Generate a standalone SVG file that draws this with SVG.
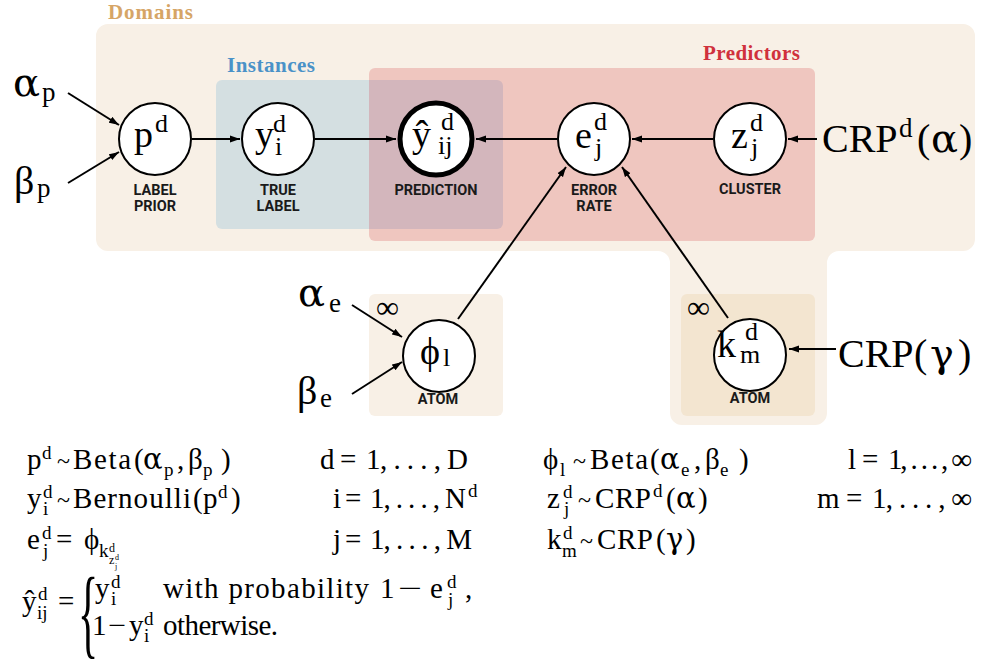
<svg xmlns="http://www.w3.org/2000/svg" width="981" height="665" viewBox="0 0 981 665">
<defs>
<style>
.m{font-family:"Liberation Serif","Times New Roman","DejaVu Serif",serif;fill:#000}
.g{font-family:"DejaVu Serif","Liberation Serif",serif}
.n{font-size:38px}
.ns{font-size:26px}
.e{font-size:29px}
.es{font-size:19px}
.et{font-size:12px}
.ett{font-size:8px}
.t{font-size:24px}
.o{font-size:40px}
.os{font-size:27px}
.lab{font-family:"Liberation Sans Narrow","Roboto","Liberation Sans",sans-serif;font-weight:bold;font-size:14.5px;text-anchor:middle;fill:#1a1a1a}
.grp{font-family:"Liberation Serif","Times New Roman",serif;font-weight:bold;font-size:21px}
.node{fill:#fff;stroke:#000;stroke-width:2}
.conn line{stroke:#000;stroke-width:2;marker-end:url(#ah)}
</style>
<marker id="ah" viewBox="0 0 10 8" refX="10" refY="4" markerWidth="10" markerHeight="8" markerUnits="userSpaceOnUse" orient="auto"><path d="M0,0.6 L10,4 L0,7.4 Z" fill="#000"/></marker>
</defs>
<rect width="981" height="665" fill="#fff"/>

<g id="plates">
<path id="domains-plate" fill="#f8f0e6" d="M108,24 H963 A12,12 0 0 1 975,36 V239 A12,12 0 0 1 963,251 H839 A12,12 0 0 0 827,263 V413 A12,12 0 0 1 815,425 H682 A12,12 0 0 1 670,413 V263 A12,12 0 0 0 658,251 H108 A12,12 0 0 1 96,239 V36 A12,12 0 0 1 108,24 Z"/>
<rect id="instances-plate" x="216" y="80" width="287" height="149" rx="6" fill="#d4dfe1"/>
<rect id="predictors-plate" x="369" y="68" width="446" height="173" rx="6" fill="#efc6bf"/>
<path id="overlap" fill="#d3b6bc" d="M369,80 H497 A6,6 0 0 1 503,86 V223 A6,6 0 0 1 497,229 H369 Z"/>
<rect id="atom-plate-phi" x="369" y="294" width="134" height="122" rx="6" fill="#f8f0e6"/>
<rect id="atom-plate-k" x="681" y="294" width="134" height="122" rx="6" fill="#f3e5d0"/>
<text class="grp" x="108" y="19" fill="#d6a566" textLength="85">Domains</text>
<text class="grp" x="227" y="72" fill="#4a92c8" textLength="88">Instances</text>
<text class="grp" x="703" y="60" fill="#d0313d" textLength="97">Predictors</text>
<text class="m" x="376" y="318" font-size="32">∞</text>
<text class="m" x="687" y="318" font-size="32">∞</text>
</g>

<g class="conn" id="connectors">
<line x1="68" y1="93" x2="119" y2="125"/>
<line x1="68" y1="183" x2="119" y2="152"/>
<line x1="192" y1="139" x2="240" y2="139"/>
<line x1="315" y1="139" x2="396" y2="139"/>
<line x1="557" y1="139" x2="476" y2="139"/>
<line x1="713" y1="139" x2="632" y2="139"/>
<line x1="817" y1="139" x2="788" y2="139"/>
<line x1="458" y1="319" x2="566" y2="167"/>
<line x1="728" y1="318" x2="622" y2="167"/>
<line x1="352" y1="305" x2="402" y2="337"/>
<line x1="352" y1="394" x2="402" y2="362"/>
<line x1="836" y1="349" x2="789" y2="349"/>
</g>

<g id="node-p">
<circle class="node" cx="155" cy="139" r="36"/>
<text class="m n" x="134" y="147">p</text>
<text class="m ns" x="155" y="132">d</text>
<text class="lab" x="155" y="195">LABEL</text>
<text class="lab" x="155" y="211">PRIOR</text>
</g>
<g id="node-y">
<circle class="node" cx="278" cy="139" r="36"/>
<text class="m n" x="255" y="147">y</text>
<text class="m ns" x="273" y="132">d</text>
<text class="m ns" x="275" y="155">i</text>
<text class="lab" x="278" y="195">TRUE</text>
<text class="lab" x="278" y="211">LABEL</text>
</g>
<g id="node-yhat">
<circle cx="436" cy="139" r="36" fill="#fff" stroke="#000" stroke-width="5"/>
<text class="m n" x="412" y="147">ŷ</text>
<text class="m ns" x="441" y="130">d</text>
<text class="m ns" x="438" y="154">ij</text>
<text class="lab" x="436" y="195">PREDICTION</text>
</g>
<g id="node-e">
<circle class="node" cx="594" cy="139" r="36"/>
<text class="m n" x="575" y="148">e</text>
<text class="m ns" x="594" y="130">d</text>
<text class="m ns" x="595" y="156">j</text>
<text class="lab" x="594" y="195">ERROR</text>
<text class="lab" x="594" y="211">RATE</text>
</g>
<g id="node-z">
<circle class="node" cx="750" cy="139" r="36"/>
<text class="m n" x="731" y="148">z</text>
<text class="m ns" x="750" y="131">d</text>
<text class="m ns" x="751" y="156">j</text>
<text class="lab" x="750" y="194">CLUSTER</text>
</g>
<g id="node-phi">
<circle class="node" cx="439" cy="356" r="36"/>
<text class="m n" x="420" y="364">ϕ</text>
<text class="m ns" x="443" y="366">l</text>
<text class="lab" x="438" y="404">ATOM</text>
</g>
<g id="node-k">
<circle class="node" cx="750" cy="355" r="36"/>
<text class="m n" x="717" y="357">k</text>
<text class="m ns" x="745" y="340">d</text>
<text class="m ns" x="740" y="363">m</text>
<text class="lab" x="750" y="403">ATOM</text>
</g>

<g id="hyper">
<text class="m g o" x="13" y="96">α</text><text class="m os" x="42" y="101">p</text>
<text class="m o" x="14" y="194">β</text><text class="m os" x="37" y="197">p</text>
<text class="m g o" x="298" y="306">α</text><text class="m os" x="329" y="312">e</text>
<text class="m o" x="297" y="404">β</text><text class="m os" x="320" y="407">e</text>
<text class="m o" x="822" y="152">CRP</text><text class="m os" x="899" y="137">d</text>
<text class="m o" x="917" y="152">(</text><text class="m g o" x="931" y="152">α</text><text class="m o" x="959" y="152">)</text>
<text class="m o" x="838" y="367">CRP</text>
<text class="m o" x="914" y="367">(</text><text class="m g o" x="930" y="367">γ</text><text class="m o" x="958" y="367">)</text>
</g>

<g id="equations" class="m">
<text class="e" x="27" y="469">p</text><text class="es" x="42" y="459">d</text>
<text class="t" x="57" y="469">~</text>
<text class="e" x="73" y="469" textLength="58">Beta</text><text class="e" x="134" y="469">(</text>
<text class="e g" x="143" y="469">α</text><text class="es" x="164" y="476">p</text>
<text class="e" x="177" y="469">,</text>
<text class="e" x="188" y="469">β</text><text class="es" x="203" y="476">p</text>
<text class="e" x="221" y="469">)</text>

<text class="e" x="320" y="469">d</text><text class="e" x="340" y="469">=</text>
<text class="e" x="366" y="469" textLength="102">1, . . . , D</text>

<text class="e" x="27" y="508">y</text><text class="es" x="43" y="498">d</text><text class="es" x="43" y="515">i</text>
<text class="t" x="57" y="508">~</text>
<text class="e" x="73" y="508" textLength="118">Bernoulli</text><text class="e" x="193" y="508">(</text>
<text class="e" x="203" y="508">p</text><text class="es" x="218" y="498">d</text>
<text class="e" x="231" y="508">)</text>

<text class="e" x="333" y="508">i</text><text class="e" x="345" y="508">=</text>
<text class="e" x="370" y="508" textLength="96">1, . . . , N</text><text class="es" x="468" y="497">d</text>

<text class="e" x="27" y="549">e</text><text class="es" x="42" y="539">d</text><text class="es" x="43" y="557">j</text>
<text class="e" x="56" y="549">=</text>
<text class="e" x="84" y="549">ϕ</text>
<text class="es" x="99" y="557">k</text><text class="et" x="109" y="552">d</text><text class="et" x="109" y="564">z</text>
<text class="ett" x="115" y="560">d</text><text class="ett" x="115" y="569">j</text>

<text class="e" x="333" y="549">j</text><text class="e" x="345" y="549">=</text>
<text class="e" x="370" y="549" textLength="102">1, . . . , M</text>

<text class="e" x="22" y="611">ŷ</text><text class="es" x="38" y="600">d</text><text class="es" x="37" y="619">ij</text>
<text class="e" x="58" y="611">=</text>
<text font-size="100" x="185.7" y="646" transform="scale(0.42,1)">{</text>
<text class="e" x="95" y="598">y</text><text class="es" x="111" y="588">d</text><text class="es" x="111" y="605">i</text>
<text class="e" x="163" y="598" textLength="206">with probability</text>
<text class="e" x="380" y="598">1</text><text class="e" x="398" y="598" textLength="24" lengthAdjust="spacingAndGlyphs">−</text>
<text class="e" x="430" y="598">e</text><text class="es" x="447" y="588">d</text><text class="es" x="448" y="606">j</text>
<text class="e" x="465" y="598">,</text>
<text class="e" x="92" y="635">1</text><text class="e" x="108" y="635" textLength="18" lengthAdjust="spacingAndGlyphs">−</text>
<text class="e" x="129" y="635">y</text><text class="es" x="144" y="625">d</text><text class="es" x="144" y="642">i</text>
<text class="e" x="163" y="635" textLength="115">otherwise.</text>

<text class="e" x="543" y="469">ϕ</text><text class="es" x="560" y="476">l</text>
<text class="t" x="573" y="469">~</text>
<text class="e" x="590" y="469" textLength="58">Beta</text><text class="e" x="650" y="469">(</text>
<text class="e g" x="660" y="469">α</text><text class="es" x="681" y="476">e</text>
<text class="e" x="694" y="469">,</text>
<text class="e" x="705" y="469">β</text><text class="es" x="720" y="476">e</text>
<text class="e" x="739" y="469">)</text>

<text class="e" x="848" y="469">l</text><text class="e" x="862" y="469">=</text>
<text class="e" x="888" y="469" textLength="84">1, . . . , ∞</text>

<text class="e" x="547" y="508">z</text><text class="es" x="563" y="498">d</text><text class="es" x="564" y="515">j</text>
<text class="t" x="578" y="508">~</text>
<text class="e" x="595" y="508" textLength="56">CRP</text><text class="es" x="653" y="497">d</text>
<text class="e" x="666" y="508">(</text><text class="e g" x="676" y="508">α</text><text class="e" x="698" y="508">)</text>

<text class="e" x="817" y="508">m</text><text class="e" x="846" y="508">=</text>
<text class="e" x="872" y="508" textLength="100">1, . . . , ∞</text>

<text class="e" x="547" y="549">k</text><text class="es" x="563" y="539">d</text><text class="es" x="562" y="557">m</text>
<text class="t" x="580" y="549">~</text>
<text class="e" x="597" y="549" textLength="56">CRP</text>
<text class="e" x="656" y="549">(</text><text class="e g" x="666" y="549">γ</text><text class="e" x="686" y="549">)</text>
</g>
</svg>
